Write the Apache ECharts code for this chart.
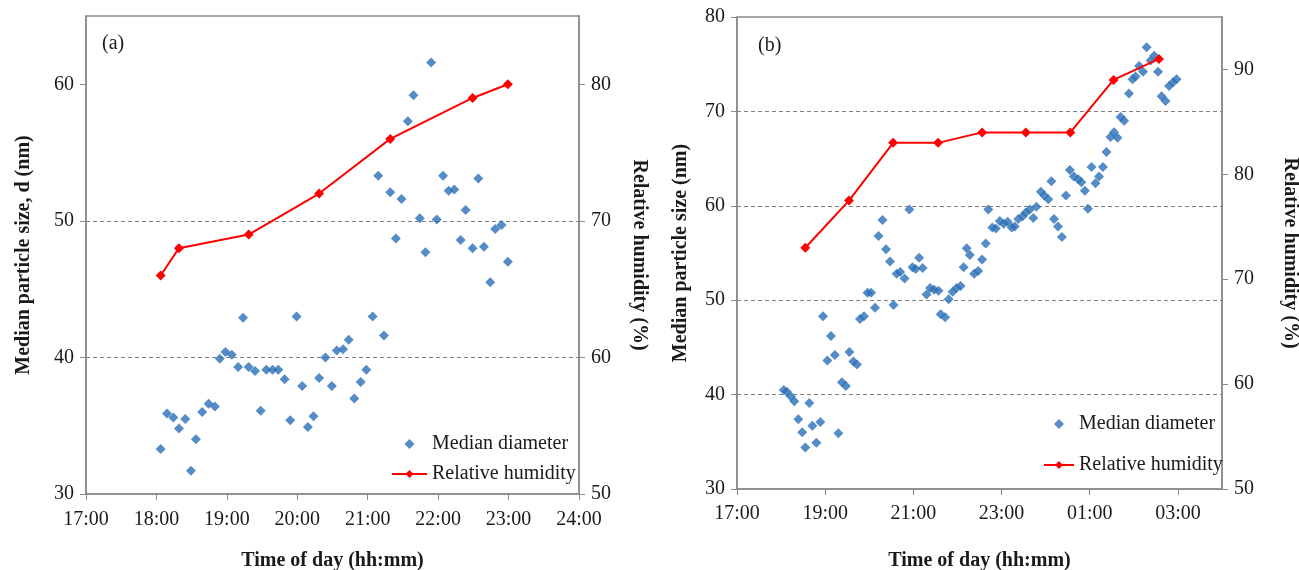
<!DOCTYPE html>
<html>
<head>
<meta charset="utf-8">
<script src="https://cdn.jsdelivr.net/npm/echarts@6/dist/echarts.min.js"></script>
<style>
  html, body { margin: 0; padding: 0; background: #fff; }
  #chart { width: 1299px; height: 570px; }
</style>
</head>
<body>
<div id="chart"></div>
<script>
// Times are decimal hours of the day; values above 24 are after midnight.

// Panel (a): median particle diameter (nm)
const timesA = [18.06, 18.15, 18.24, 18.32, 18.41, 18.49, 18.56, 18.65, 18.74, 18.83,
  18.90, 18.98, 19.07, 19.16, 19.23, 19.31, 19.40, 19.48, 19.56, 19.65,
  19.73, 19.82, 19.90, 19.99, 20.07, 20.15, 20.23, 20.31, 20.40, 20.49,
  20.56, 20.65, 20.73, 20.81, 20.90, 20.98, 21.07, 21.15, 21.23, 21.32,
  21.40, 21.48, 21.57, 21.65, 21.74, 21.82, 21.90, 21.98, 22.07, 22.15,
  22.23, 22.32, 22.39, 22.49, 22.57, 22.65, 22.74, 22.81, 22.90, 22.99];
const diamA = [33.3, 35.9, 35.6, 34.8, 35.5, 31.7, 34.0, 36.0, 36.6, 36.4,
  39.9, 40.4, 40.2, 39.3, 42.9, 39.3, 39.0, 36.1, 39.1, 39.1,
  39.1, 38.4, 35.4, 43.0, 37.9, 34.9, 35.7, 38.5, 40.0, 37.9,
  40.5, 40.6, 41.3, 37.0, 38.2, 39.1, 43.0, 53.3, 41.6, 52.1,
  48.7, 51.6, 57.3, 59.2, 50.2, 47.7, 61.6, 50.1, 53.3, 52.2,
  52.3, 48.6, 50.8, 48.0, 53.1, 48.1, 45.5, 49.4, 49.7, 47.0];

// Panel (a): relative humidity (%)
const rhTimesA = [18.06, 18.32, 19.31, 20.31, 21.32, 22.49, 22.99];
const rhA = [66, 68, 69, 72, 76, 79, 80];

// Panel (b): median particle diameter (nm)
const timesB = [18.06, 18.13, 18.22, 18.30, 18.39, 18.48, 18.55, 18.64, 18.71, 18.80,
  18.89, 18.95, 19.05, 19.13, 19.22, 19.30, 19.38, 19.47, 19.55, 19.64,
  19.72, 19.79, 19.88, 19.96, 20.04, 20.13, 20.21, 20.30, 20.38, 20.47,
  20.55, 20.62, 20.70, 20.80, 20.91, 20.98, 21.05, 21.13, 21.21, 21.30,
  21.38, 21.47, 21.57, 21.62, 21.72, 21.80, 21.89, 21.98, 22.07, 22.14,
  22.21, 22.28, 22.38, 22.47, 22.56, 22.64, 22.70, 22.79, 22.87, 22.96,
  23.05, 23.14, 23.23, 23.30, 23.38, 23.48, 23.55, 23.64, 23.72, 23.79,
  23.89, 23.97, 24.06, 24.13, 24.19, 24.28, 24.37, 24.46, 24.55, 24.64,
  24.74, 24.81, 24.89, 24.96, 25.04, 25.13, 25.21, 25.30, 25.38, 25.47,
  25.55, 25.63, 25.70, 25.78, 25.89, 25.97, 26.04, 26.12, 26.21, 26.29,
  26.38, 26.46, 26.55, 26.63, 26.72, 26.80, 26.89, 26.97];
const diamB = [40.5, 40.3, 39.8, 39.3, 37.4, 36.0, 34.4, 39.1, 36.7, 34.9,
  37.1, 48.3, 43.6, 46.2, 44.2, 35.9, 41.3, 40.9, 44.5, 43.5,
  43.2, 48.0, 48.3, 50.8, 50.8, 49.2, 56.8, 58.5, 55.4, 54.1,
  49.5, 52.8, 53.0, 52.3, 59.6, 53.5, 53.3, 54.5, 53.4, 50.6,
  51.3, 51.1, 51.0, 48.5, 48.2, 50.1, 50.9, 51.3, 51.5, 53.5,
  55.5, 54.8, 52.8, 53.1, 54.3, 56.0, 59.6, 57.7, 57.6, 58.4,
  58.1, 58.3, 57.7, 57.8, 58.6, 58.9, 59.3, 59.6, 58.7, 59.9,
  61.5, 61.1, 60.7, 62.6, 58.6, 57.8, 56.7, 61.1, 63.8, 63.1,
  62.8, 62.5, 61.6, 59.7, 64.1, 62.4, 63.1, 64.1, 65.7, 67.3,
  67.8, 67.2, 69.4, 69.0, 71.9, 73.4, 73.7, 74.8, 74.2, 76.8,
  75.4, 75.9, 74.2, 71.6, 71.1, 72.7, 73.1, 73.4];

// Panel (b): relative humidity (%)
const rhTimesB = [18.55, 19.54, 20.54, 21.56, 22.56, 23.55, 24.56, 25.54, 26.57];
const rhB = [73, 77.5, 83, 83, 84, 84, 84, 89, 91];

// Tick labels
const hourTicksA = [17, 18, 19, 20, 21, 22, 23, 24];
const hourTicksB = [17, 19, 21, 23, 25, 27];
const sizeTicksA = [30, 40, 50, 60];
const rhTicksA = [50, 60, 70, 80];
const sizeTicksB = [30, 40, 50, 60, 70, 80];
const rhTicksB = [50, 60, 70, 80, 90];

const NAME_D = 'Median diameter';
const NAME_RH = 'Relative humidity';

const FONT = "'Liberation Serif', 'Times New Roman', serif";
const TXT = '#1a1a1a';
const AXIS = '#8a8a8a';
const BLUE = '#2b6fb8';
const RED = '#ff0000';
// Unstretched diamond for the legend key
const DIAMOND_ICON = 'path://M5,0L10,5L5,10L0,5Z';

const pairs = (xs, ys) => xs.map((x, i) => [x, ys[i]]);
const pad2 = n => String(n).padStart(2, '0');
// Panel (a) runs up to 24:00; panel (b) wraps past midnight.
const hhA = v => pad2(Math.round(v)) + ':00';
const hhB = v => pad2(Math.round(v) % 24) + ':00';

function xAxis(gridIndex, min, max, interval, ticks, fmt, margin, nameGap) {
  return {
    type: 'value', gridIndex, min, max, interval,
    name: 'Time of day (hh:mm)', nameLocation: 'middle', nameGap,
    nameTextStyle: { fontFamily: FONT, fontWeight: 'bold', fontSize: 20, color: TXT },
    axisLine: { lineStyle: { color: AXIS, width: 1.5 } },
    axisTick: { show: true, inside: false, length: 6, lineStyle: { color: AXIS }, customValues: ticks },
    axisLabel: { fontFamily: FONT, fontSize: 20, color: TXT, margin, formatter: fmt, customValues: ticks },
    splitLine: { show: false }
  };
}

function yAxis(gridIndex, position, min, max, ticks, name, nameGap, grid, rotate) {
  return {
    type: 'value', gridIndex, position, min, max, interval: 10,
    name, nameLocation: 'middle', nameGap, nameRotate: rotate,
    nameTextStyle: { fontFamily: FONT, fontWeight: 'bold', fontSize: 20, color: TXT },
    axisLine: { show: true, lineStyle: { color: AXIS, width: 1.5 } },
    axisTick: { show: true, inside: false, length: 6, lineStyle: { color: AXIS }, customValues: ticks },
    axisLabel: { fontFamily: FONT, fontSize: 20, color: TXT, margin: 12, customValues: ticks },
    splitLine: {
      show: grid, showMinLine: false, showMaxLine: false,
      lineStyle: { color: '#808080', type: [4, 3], width: 1 }
    }
  };
}

function legend(left, top, itemGap, itemWidth) {
  return {
    left, top, orient: 'vertical', itemGap, itemWidth, itemHeight: 10,
    textStyle: { fontFamily: FONT, fontSize: 20, color: TXT },
    data: [{ name: NAME_D, icon: DIAMOND_ICON }, { name: NAME_RH }],
    selectedMode: false
  };
}

const scatter = (xi, yi, data) => ({
  name: NAME_D, type: 'scatter', xAxisIndex: xi, yAxisIndex: yi,
  symbol: 'diamond', symbolSize: 10,
  itemStyle: { color: BLUE },
  data, z: 2
});
const line = (xi, yi, data) => ({
  name: NAME_RH, type: 'line', xAxisIndex: xi, yAxisIndex: yi,
  symbol: 'diamond', symbolSize: 10, showAllSymbol: true,
  lineStyle: { color: RED, width: 2 }, itemStyle: { color: RED },
  data, z: 3
});

const gridBase = {
  show: true, borderColor: AXIS, borderWidth: 1.5, backgroundColor: 'transparent',
  containLabel: false, outerBoundsMode: 'none'
};

const option = {
  animation: false,
  backgroundColor: '#ffffff',
  title: [
    { text: '(a)', left: 97, top: 29, textStyle: { fontFamily: FONT, fontWeight: 'normal', fontSize: 20, color: TXT } },
    { text: '(b)', left: 753, top: 31, textStyle: { fontFamily: FONT, fontWeight: 'normal', fontSize: 20, color: TXT } }
  ],
  grid: [
    Object.assign({ left: 86, top: 16, width: 493, height: 478 }, gridBase),
    Object.assign({ left: 737, top: 17, width: 485, height: 472 }, gridBase)
  ],
  xAxis: [
    xAxis(0, 17, 24, 1, hourTicksA, hhA, 16, 57),
    xAxis(1, 17, 28, 2, hourTicksB, hhB, 15, 62)
  ],
  yAxis: [
    yAxis(0, 'left', 30, 65, sizeTicksA, 'Median particle size, d (nm)', 52, true, 90),
    yAxis(0, 'right', 50, 85, rhTicksA, 'Relative humidity (%)', 50, false, -90),
    yAxis(1, 'left', 30, 80, sizeTicksB, 'Median particle size (nm)', 46, true, 90),
    yAxis(1, 'right', 50, 95, rhTicksB, 'Relative humidity (%)', 58, false, -90)
  ],
  legend: [
    legend(386, 429, 10, 35),
    legend(1038, 409, 21, 30)
  ],
  series: [
    scatter(0, 0, pairs(timesA, diamA)),
    line(0, 1, pairs(rhTimesA, rhA)),
    scatter(1, 2, pairs(timesB, diamB)),
    line(1, 3, pairs(rhTimesB, rhB))
  ]
};

const chart = echarts.init(document.getElementById('chart'), null, { renderer: 'canvas' });
chart.setOption(option);
</script>
</body>
</html>
